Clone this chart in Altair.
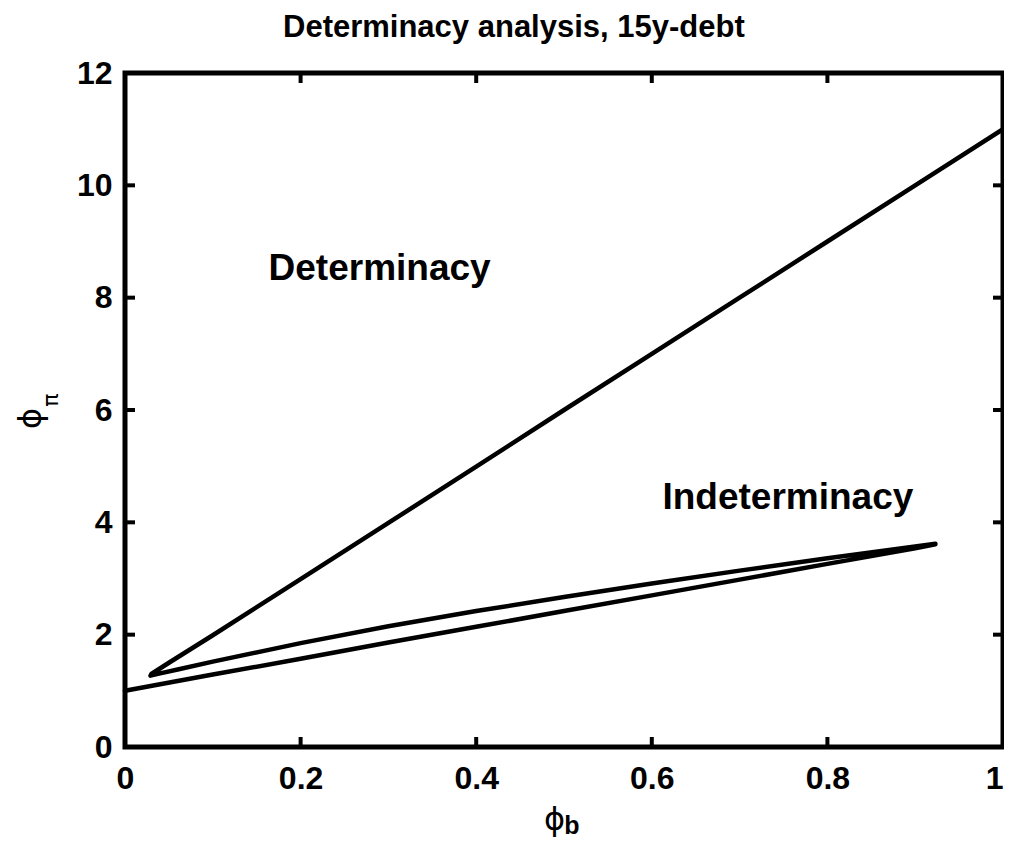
import altair as alt
import pandas as pd

# ---- data ----
# lower branch: from phi_b = 0 out to the right-hand turning point
lower_x = [0.0, 0.1, 0.2, 0.3, 0.4, 0.5, 0.6, 0.7, 0.8, 0.9, 0.923]
lower_y = [1.00, 1.29, 1.57, 1.86, 2.14, 2.42, 2.70, 2.98, 3.26, 3.54, 3.61]
# middle branch: from the right-hand turning point back to the left tip
middle_x = [0.923, 0.9, 0.8, 0.7, 0.6, 0.5, 0.4, 0.3, 0.2, 0.1, 0.06, 0.04, 0.029]
middle_y = [3.62, 3.57, 3.36, 3.14, 2.91, 2.67, 2.42, 2.15, 1.85, 1.52, 1.38, 1.31, 1.27]
# upper branch: from the left tip up to the right edge
upper_x = [0.03, 0.05, 0.1, 0.2, 0.3, 0.4, 0.5, 0.6, 0.7, 0.8, 0.9, 1.0]
upper_y = [1.30, 1.50, 1.99, 2.99, 3.99, 4.99, 6.00, 7.00, 8.00, 9.00, 10.00, 11.00]

x_ticks = [0, 0.2, 0.4, 0.6, 0.8, 1.0]
y_ticks = [0, 2, 4, 6, 8, 10, 12]

region_labels = ["Determinacy", "Indeterminacy"]
region_x = [0.29, 0.755]
region_y = [8.31, 4.23]

title_text = "Determinacy analysis, 15y-debt"

# ---- build tables ----
xs = lower_x + middle_x + upper_x
ys = lower_y + middle_y + upper_y
curve = pd.DataFrame({"phi_b": xs, "phi_pi": ys, "seq": list(range(len(xs)))})
xt = pd.DataFrame({"v": x_ticks})
yt = pd.DataFrame({"v": y_ticks})
labels = pd.DataFrame({"label": region_labels, "x": region_x, "y": region_y})

W, H = 878, 674
FONT = "Liberation Sans"
TICK = 10

xscale = alt.Scale(domain=[0, 1], nice=False, zero=False)
yscale = alt.Scale(domain=[0, 12], nice=False, zero=False)

xaxis = alt.Axis(values=x_ticks, format="~g", domain=False, ticks=False, grid=False,
                 labelFont=FONT, labelFontSize=32, labelFontWeight="bold", labelColor="black",
                 labelPadding=16, labelFlush=False,
                 labelAlign={"expr": "datum.value == 1 ? 'right' : 'center'"},
                 title="ϕ", titleFont="DejaVu Sans", titleFontSize=32, titleFontWeight="normal",
                 titleColor="black", titleX=429, titleY=72, titleAlign="center",
                 titleBaseline="middle")
yaxis = alt.Axis(values=y_ticks, format="d", domain=False, ticks=False, grid=False,
                 labelFont=FONT, labelFontSize=32, labelFontWeight="bold", labelColor="black",
                 labelPadding=13, labelFlush=False,
                 title="ϕ", titleFont="DejaVu Sans", titleFontSize=32, titleFontWeight="normal",
                 titleColor="black", titleX=-95, titleY=345, titleAngle=270,
                 titleAlign="center", titleBaseline="middle")

line = alt.Chart(curve).mark_line(color="black", strokeWidth=4.5, strokeCap="round",
                                  strokeJoin="round").encode(
    x=alt.X("phi_b:Q", scale=xscale, axis=xaxis),
    y=alt.Y("phi_pi:Q", scale=yscale, axis=yaxis),
    order=alt.Order("seq:Q"),
)

tick_style = dict(color="black", strokeWidth=4)
bottom_ticks = alt.Chart(xt).mark_rule(**tick_style).encode(
    x=alt.X("v:Q", scale=xscale), y=alt.value(H), y2=alt.value(H - TICK))
top_ticks = alt.Chart(xt).mark_rule(**tick_style).encode(
    x=alt.X("v:Q", scale=xscale), y=alt.value(0), y2=alt.value(TICK))
left_ticks = alt.Chart(yt).mark_rule(**tick_style).encode(
    y=alt.Y("v:Q", scale=yscale), x=alt.value(0), x2=alt.value(TICK))
right_ticks = alt.Chart(yt).mark_rule(**tick_style).encode(
    y=alt.Y("v:Q", scale=yscale), x=alt.value(W), x2=alt.value(W - TICK))

region_text = alt.Chart(labels).mark_text(font=FONT, fontSize=37, fontWeight="bold",
                                          color="black", align="center",
                                          baseline="alphabetic").encode(
    x=alt.X("x:Q", scale=xscale), y=alt.Y("y:Q", scale=yscale), text="label:N")

sub_b = alt.Chart(pd.DataFrame({"t": ["b"]})).mark_text(
    font=FONT, fontSize=25, fontWeight="bold", color="black", align="center",
    baseline="alphabetic").encode(x=alt.value(447), y=alt.value(761), text="t:N")
sub_pi = alt.Chart(pd.DataFrame({"t": ["π"]})).mark_text(
    font="DejaVu Sans", fontSize=22, color="black", align="center", baseline="middle",
    angle=270).encode(x=alt.value(-74), y=alt.value(327), text="t:N")

chart = alt.layer(line, bottom_ticks, top_ticks, left_ticks, right_ticks,
                  region_text, sub_b, sub_pi).properties(
    width=W, height=H,
    title=alt.TitleParams(title_text, font=FONT, fontSize=31, fontWeight="bold",
                          color="black", anchor="start", frame="group", dx=158, offset=13),
    autosize=alt.AutoSizeParams(type="none"),
    padding={"left": 117, "top": 65, "right": 1, "bottom": 95},
).configure(background="white").configure_view(stroke="black", strokeWidth=5)

chart.save("out.html", embed_options={"renderer": "svg", "actions": False})
